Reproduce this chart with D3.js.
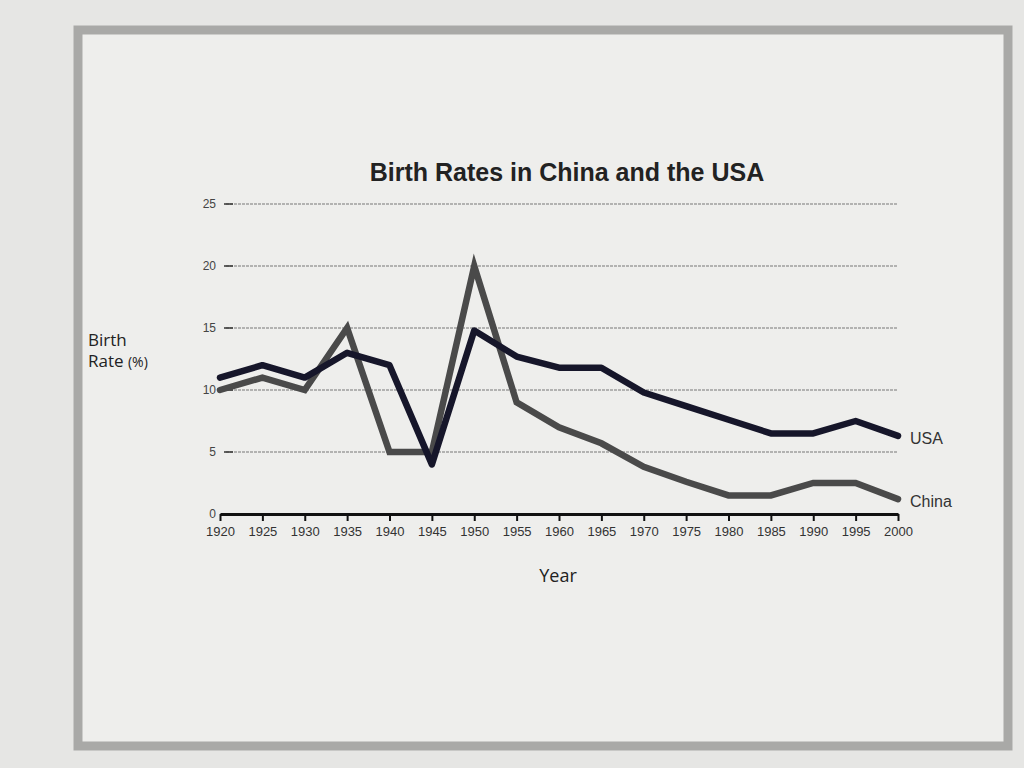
<!DOCTYPE html>
<html><head><meta charset="utf-8">
<script src="https://cdn.jsdelivr.net/npm/d3@7"></script>
<style>body{margin:0;background:#e4e4e2;}svg{display:block;}</style>
</head><body>
<svg id="c" width="1024" height="768"></svg>
<script>
const years = [1920,1925,1930,1935,1940,1945,1950,1955,1960,1965,1970,1975,1980,1985,1990,1995,2000];
const usa   = [11,12,11,13,12,4,14.8,12.7,11.8,11.8,9.8,8.7,7.6,6.5,6.5,7.5,6.3];
const china = [10,11,10,15,5,5,20,9,7,5.7,3.8,2.6,1.5,1.5,2.5,2.5,1.2];
const yTicks = [0,5,10,15,20,25];
const xTicks = years;

const svg = d3.select("#c");
// page & frame
svg.append("rect").attr("x",0).attr("y",0).attr("width",1024).attr("height",768).attr("fill","#e6e6e4");
svg.append("rect").attr("x",78).attr("y",30).attr("width",930).attr("height",716)
  .attr("fill","#eeeeec").attr("stroke","#a9a9a7").attr("stroke-width",9);

const x = d3.scaleLinear().domain([1920,2000]).range([220,898]);
const y = d3.scaleLinear().domain([0,25]).range([514,204]);

// gridlines
svg.append("g").selectAll("line").data(yTicks.filter(d=>d>0)).join("line")
  .attr("x1",226).attr("x2",898).attr("y1",d=>y(d)).attr("y2",d=>y(d))
  .attr("stroke","#777").attr("stroke-width",1).attr("stroke-dasharray","3,1");
// y tick marks
svg.append("g").selectAll("line").data(yTicks).join("line")
  .attr("x1",224).attr("x2",233).attr("y1",d=>y(d)).attr("y2",d=>y(d))
  .attr("stroke","#333").attr("stroke-width",1.5);
svg.append("g").selectAll("text").data(yTicks).join("text")
  .attr("x",216).attr("y",d=>y(d)+4).attr("text-anchor","end")
  .attr("font-family","Liberation Sans, Arial, sans-serif").attr("font-size",12).attr("fill","#444")
  .text(d=>d);

// x axis
const xAxis = d3.axisBottom(x).tickValues(xTicks).tickFormat(d3.format("d")).tickSize(7).tickSizeOuter(0);
const gx = svg.append("g").attr("transform",`translate(0,${y(0)})`).call(xAxis);
gx.select(".domain").attr("stroke","#111").attr("stroke-width",3);
gx.selectAll(".tick line").attr("stroke","#111").attr("stroke-width",2);
gx.selectAll(".tick text").attr("font-family","Liberation Sans, Arial, sans-serif").attr("font-size",13).attr("fill","#333").attr("dy","0.9em");

const line = d3.line().x((d,i)=>x(years[i])).y(d=>y(d));
svg.append("path").datum(china).attr("d",line).attr("fill","none")
  .attr("stroke","#4a4a4a").attr("stroke-width",6.5).attr("stroke-linejoin","miter").attr("stroke-linecap","round");
svg.append("path").datum(usa).attr("d",line).attr("fill","none")
  .attr("stroke","#16162a").attr("stroke-width",6.5).attr("stroke-linejoin","round").attr("stroke-linecap","round");

// series labels
svg.append("text").attr("x",910).attr("y",y(usa[usa.length-1])+8).attr("font-family","Liberation Sans, Arial, sans-serif")
  .attr("font-size",16).attr("fill","#333").text("USA");
svg.append("text").attr("x",910).attr("y",y(china[china.length-1])+8).attr("font-family","Liberation Sans, Arial, sans-serif")
  .attr("font-size",16).attr("fill","#333").text("China");

// title
svg.append("text").attr("x",567).attr("y",181).attr("text-anchor","middle")
  .attr("font-family","Liberation Sans, Arial, sans-serif").attr("font-weight","bold").attr("font-size",25).attr("fill","#222")
  .text("Birth Rates in China and the USA");
// y label
const yl = svg.append("text").attr("font-family","Open Sans, DejaVu Sans, sans-serif").attr("fill","#222");
yl.append("tspan").attr("x",88).attr("y",346).attr("font-size",17).text("Birth");
yl.append("tspan").attr("x",88).attr("y",367).attr("font-size",17).text("Rate ");
yl.append("tspan").attr("font-size",14).text("(%)");
// x label
svg.append("text").attr("x",558).attr("y",582).attr("text-anchor","middle")
  .attr("font-family","Open Sans, DejaVu Sans, sans-serif").attr("font-size",18).attr("fill","#222").text("Year");
</script>
</body></html>
